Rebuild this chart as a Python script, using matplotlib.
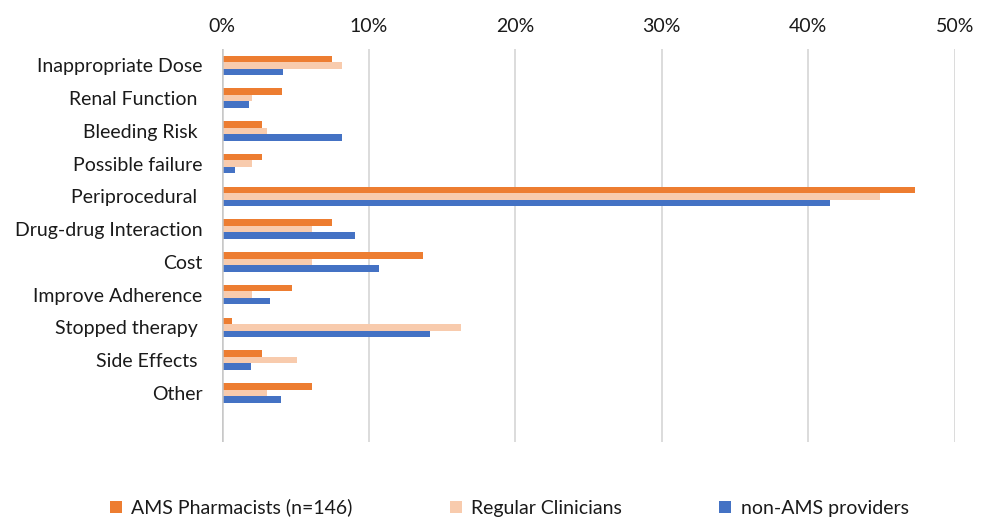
import matplotlib
matplotlib.use("Agg")
import matplotlib.pyplot as plt
import numpy as np
from matplotlib.ticker import PercentFormatter

plt.rcParams['font.family'] = ['Lato', 'DejaVu Sans']

categories = ["Inappropriate Dose", "Renal Function ", "Bleeding Risk ", "Possible failure",
              "Periprocedural ", "Drug-drug Interaction", "Cost", "Improve Adherence",
              "Stopped therapy ", "Side Effects ", "Other"]
series_names = ["AMS Pharmacists (n=146)", "Regular Clinicians", "non-AMS providers"]
ams_pharmacists = [7.53, 4.11, 2.74, 2.74, 47.26, 7.53, 13.70, 4.79, 0.68, 2.74, 6.16]
regular_clinicians = [8.16, 2.04, 3.06, 2.04, 44.90, 6.12, 6.12, 2.04, 16.33, 5.10, 3.06]
non_ams_providers = [4.17, 1.82, 8.18, 0.91, 41.45, 9.09, 10.73, 3.29, 14.17, 1.99, 4.01]
x_ticks = [0, 10, 20, 30, 40, 50]

colors = ["#ED7D31", "#F8CBAD", "#4472C4"]
text_color = "#1A1A1A"

fig = plt.figure(figsize=(9.88, 5.18), dpi=100)
ax = fig.add_axes([0.2247, 0.1467, 0.9666 - 0.2247, 0.9054 - 0.1467])

y = np.arange(len(categories))
bar_h = 0.2
for i, (vals, name, c) in enumerate(zip([ams_pharmacists, regular_clinicians, non_ams_providers],
                                        series_names, colors)):
    ax.barh(y + (i - 1) * bar_h, vals, height=bar_h, color=c, label=name, zorder=3)

ax.set_ylim(len(categories) + 0.5, -0.5)
ax.set_xlim(0, 50)
ax.set_yticks(y)
ax.set_yticklabels(categories, fontsize=14, color=text_color)
ax.set_xticks(x_ticks)
ax.xaxis.set_major_formatter(PercentFormatter(decimals=0))
ax.xaxis.tick_top()
ax.tick_params(axis='x', length=0, labelsize=14, pad=10, colors=text_color)
ax.tick_params(axis='y', length=0, pad=14)
ax.grid(axis='x', color="#D9D9D9", linewidth=1.3, zorder=0)
for s in ax.spines.values():
    s.set_visible(False)
ax.axvline(0, color="#C8C8C8", linewidth=1.8, zorder=4)

fig.legend(loc="center", bbox_to_anchor=(0.5155, 0.02), ncol=3, frameon=False,
           fontsize=14, handlelength=0.6, handleheight=0.6, handletextpad=0.5,
           columnspacing=5.0, labelcolor=text_color)

fig.savefig("out.png", dpi=100)
